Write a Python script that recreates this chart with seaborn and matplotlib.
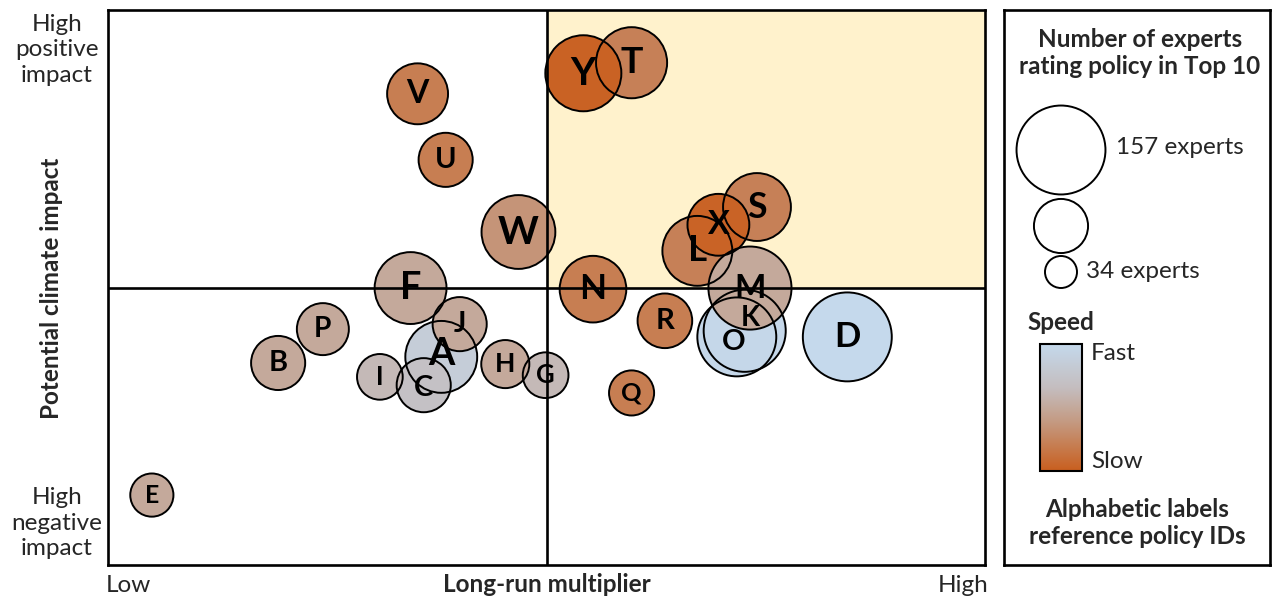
import matplotlib
matplotlib.use("Agg")
import matplotlib.pyplot as plt
from matplotlib.colors import LinearSegmentedColormap
from matplotlib.patches import Rectangle
import numpy as np
import pandas as pd
import seaborn as sns

# ---------------- data ----------------
policies = ["A", "B", "C", "D", "E", "F", "G", "H", "I", "J", "K", "L", "O",
            "M", "N", "P", "Q", "R", "S", "T", "U", "V", "W", "X", "Y"]
multiplier = [38.0, 19.4, 36.0, 84.3, 5.0, 34.5, 49.9, 45.3, 31.0, 40.1, 72.6, 67.2, 71.7,
              73.2, 55.3, 24.5, 59.7, 63.5, 74.0, 59.7, 38.5, 35.3, 46.8, 69.6, 54.2]
climate_impact = [37.5, 36.4, 32.4, 41.1, 12.6, 49.9, 34.2, 36.2, 33.9, 43.4, 42.2, 56.6, 41.1,
                  49.9, 49.7, 42.5, 31.0, 44.0, 64.5, 90.5, 73.0, 84.9, 60.0, 61.3, 88.6]
experts = [108, 68, 68, 157, 49, 108, 53, 57, 53, 68, 136, 103, 127,
           139, 95, 64, 52, 69, 98, 106, 68, 82, 113, 84, 119]
speed = [0.15, 0.5, 0.3, 0.0, 0.5, 0.5, 0.38, 0.5, 0.38, 0.5, 0.02, 0.78, 0.02,
         0.5, 0.8, 0.5, 0.8, 0.8, 0.78, 0.78, 0.8, 0.8, 0.65, 0.97, 0.98]

legend_experts = [157, 68, 34]
legend_labels = ["157 experts", "", "34 experts"]

df = pd.DataFrame({"policy": policies, "x": multiplier, "y": climate_impact,
                   "experts": experts, "speed": speed})

# label nudges (points) and size overrides for crowded bubbles
label_nudge = {"K": (4, 9), "O": (-2, -4), "A": (0, 2), "C": (0, -2)}
label_size = {"K": 20, "O": 21, "M": 24, "D": 25}

# ---------------- style ----------------
sns.set_theme(style="white")
plt.rcParams["font.family"] = ["Lato", "DejaVu Sans"]

W, H = 1273, 601
fig = plt.figure(figsize=(W / 100, H / 100), dpi=100)

def fx(px):
    return px / W

def fy(py):
    return 1 - py / H

cmap = LinearSegmentedColormap.from_list(
    "speed", [(0.0, "#C5D9EC"), (0.35, "#C4BDBE"), (0.6, "#C49C85"), (1.0, "#C95F1F")])

SIZES = (531, 4100)
SIZE_NORM = (34, 157)
FS = 17.5

# ---------------- main axes ----------------
ax = fig.add_axes([fx(108), fy(565), fx(985) - fx(108), fy(10) - fy(565)])
ax.set_xlim(0, 100)
ax.set_ylim(0, 100)
ax.add_patch(Rectangle((50, 50), 50, 50, facecolor="#FFF2CC", edgecolor="none", zorder=0))

sns.scatterplot(data=df, x="x", y="y", hue="speed", size="experts",
                palette=cmap, hue_norm=(0, 1), sizes=SIZES, size_norm=SIZE_NORM,
                linewidth=0, legend=False, ax=ax, zorder=2)
sns.scatterplot(data=df, x="x", y="y", size="experts", sizes=SIZES, size_norm=SIZE_NORM,
                color="black", edgecolor="black", linewidth=1.4, legend=False, ax=ax, zorder=3)
outline = ax.collections[-1]
outline.set_facecolor("none")
outline.set_edgecolor("black")

ax.axvline(50, color="black", lw=1.9, zorder=4)
ax.axhline(50, color="black", lw=1.9, zorder=4)

for p, x, y, n in zip(policies, multiplier, climate_impact, experts):
    dx, dy = label_nudge.get(p, (0, 0))
    fs = label_size.get(p, min(28, 10 + 0.16 * n))
    ax.annotate(p, (x, y), xytext=(dx, dy), textcoords="offset points",
                ha="center", va="center", fontsize=fs,
                fontweight="bold", color="black", zorder=5)

ax.set_xticks([])
ax.set_yticks([])
ax.set_xlabel("")
ax.set_ylabel("")
for s in ax.spines.values():
    s.set_visible(True)
    s.set_color("black")
    s.set_linewidth(1.9)

# axis texts
fig.text(fx(547), fy(585), "Long-run multiplier", ha="center", va="center",
         fontsize=FS, fontweight="bold")
fig.text(fx(128), fy(585), "Low", ha="center", va="center", fontsize=FS)
fig.text(fx(963), fy(585), "High", ha="center", va="center", fontsize=FS)
fig.text(fx(52), fy(288), "Potential climate impact", ha="center", va="center",
         fontsize=FS, fontweight="bold", rotation=90)
fig.text(fx(57), fy(50), "High\npositive\nimpact", ha="center", va="center",
         fontsize=FS, linespacing=1.25)
fig.text(fx(57), fy(523), "High\nnegative\nimpact", ha="center", va="center",
         fontsize=FS, linespacing=1.25)

# ---------------- legend panel ----------------
lax = fig.add_axes([fx(1004), fy(565), fx(1270) - fx(1004), fy(10) - fy(565)])
lax.set_facecolor("white")
for s in lax.spines.values():
    s.set_visible(True)
    s.set_color("black")
    s.set_linewidth(1.9)

leg_df = pd.DataFrame({"x": [1061, 1061, 1061], "y": [150, 226, 272],
                       "experts": legend_experts})
sns.scatterplot(data=leg_df, x="x", y="y", size="experts", sizes=SIZES, size_norm=SIZE_NORM,
                color="white", edgecolor="black", linewidth=1.4, legend=False, ax=lax)

grad = np.linspace(0, 1, 256).reshape(-1, 1)
lax.imshow(grad, cmap=cmap, aspect="auto", extent=(1040, 1082, 471, 344), zorder=2)
lax.add_patch(Rectangle((1040, 344), 42, 127, facecolor="none", edgecolor="black",
                        lw=1.5, zorder=3))
lax.set_xlim(1004, 1270)
lax.set_ylim(565, 10)
lax.set_xticks([])
lax.set_yticks([])
lax.set_xlabel("")
lax.set_ylabel("")

lax.text(1140, 53, "Number of experts\nrating policy in Top 10", ha="center", va="center",
         fontsize=FS, fontweight="bold", linespacing=1.2)
lax.text(1116, 148, legend_labels[0], ha="left", va="center", fontsize=FS)
lax.text(1086, 272, legend_labels[2], ha="left", va="center", fontsize=FS)
lax.text(1027, 323, "Speed", ha="left", va="center", fontsize=FS, fontweight="bold")
lax.text(1091, 353, "Fast", ha="left", va="center", fontsize=FS)
lax.text(1091, 462, "Slow", ha="left", va="center", fontsize=FS)
lax.text(1137, 523, "Alphabetic labels\nreference policy IDs", ha="center", va="center",
         fontsize=FS, fontweight="bold", linespacing=1.2)

fig.savefig("out.png", dpi=100)
